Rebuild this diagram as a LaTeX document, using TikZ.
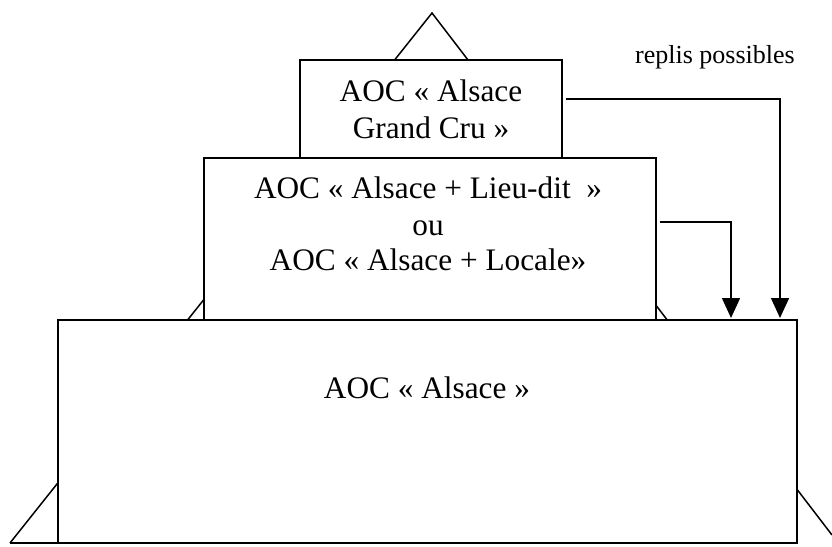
\documentclass[tikz,border=0pt]{standalone}
\usepackage{fontspec}
\setmainfont{Liberation Serif}
\usetikzlibrary{arrows.meta}
\begin{document}
\begin{tikzpicture}[x=1pt,y=-1pt,
  edge/.style={line width=1.5pt},
  box/.style={draw, line width=1.5pt, fill=white, inner sep=0pt},
  lbl/.style={font=\fontsize{31.3}{37}\selectfont, inner sep=0pt, anchor=base},
  note/.style={font=\fontsize{26}{31}\selectfont, inner sep=0pt, anchor=base},
  fall/.style={line width=1.5pt, -{Triangle[width=18pt,length=20pt]}}]
\useasboundingbox (0,0) rectangle (832,546);
% pyramid outline behind the boxes
\coordinate (apex) at (432,13);
\coordinate (baseL) at (10,543);
\coordinate (baseR) at (832,535);
\coordinate (boxL) at (58,543);
\draw[edge] (baseL) -- (apex) -- (baseR);
\draw[edge] (baseL) -- (boxL);
% boxes
\node[box, minimum width=262pt, minimum height=98pt] (topbox) at (431,109) {};
\node[box, minimum width=452pt, minimum height=162pt] (midbox) at (430,239) {};
\node[box, minimum width=739pt, minimum height=223pt] (basebox) at (427.5,431.5) {};
% texts
\node[lbl] (t1) at (431,101) {AOC « Alsace};
\node[lbl] (t2) at (431,138) {Grand Cru »};
\node[lbl] (m1) at (428,198) {AOC « Alsace + Lieu-dit~~»};
\node[lbl] (m2) at (428,235) {ou};
\node[lbl] (m3) at (428,270) {AOC « Alsace + Locale»};
\node[lbl] (b1) at (427,398) {AOC « Alsace »};
\node[note] (rp) at (715,63) {replis possibles};
% fall-back arrows
\coordinate (land1) at (780,318);
\coordinate (land2) at (731,318);
\draw[fall] ([xshift=3pt,yshift=10pt]topbox.east) -| (land1);
\draw[fall] ([xshift=3pt,yshift=17pt]midbox.east) -| (land2);
\end{tikzpicture}
\end{document}
